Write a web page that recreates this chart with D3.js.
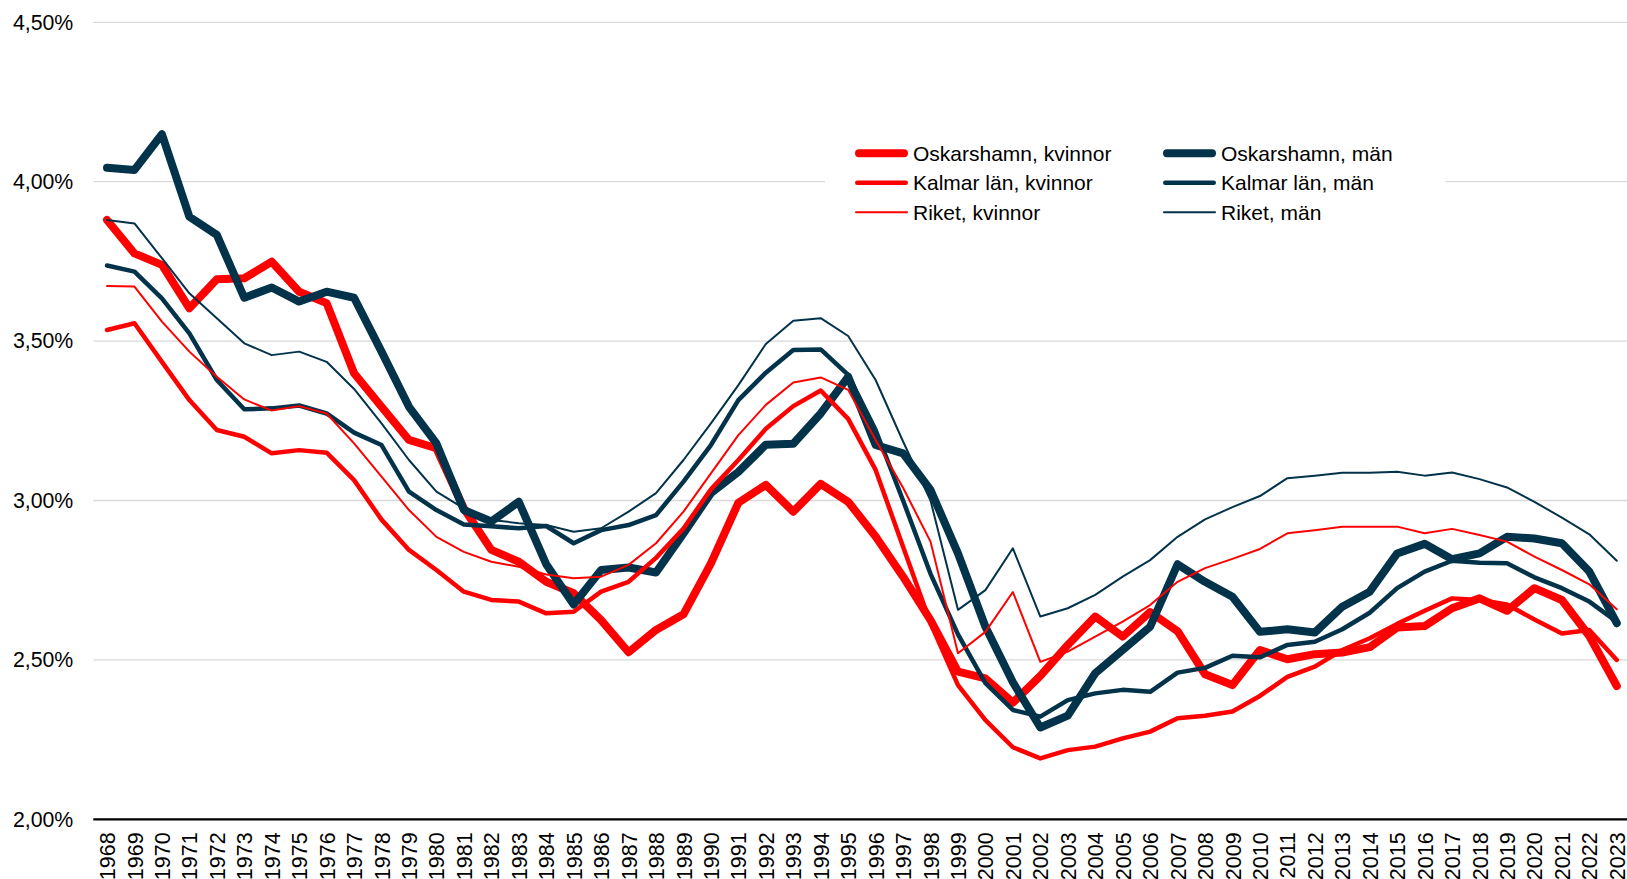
<!DOCTYPE html>
<html>
<head>
<meta charset="utf-8">
<title>Oskarshamn, Kalmar län och riket</title>
<script src="https://d3js.org/d3.v7.min.js"></script>
<style>
  body { margin: 0; background: #fff; }
  text { font-family: "Liberation Sans", Arial, sans-serif; fill: #000; }
</style>
</head>
<body>
<script>
var width = 1627,
    height = 879;

var years = [1968, 1969, 1970, 1971, 1972, 1973, 1974, 1975, 1976, 1977,
  1978, 1979, 1980, 1981, 1982, 1983, 1984, 1985, 1986, 1987,
  1988, 1989, 1990, 1991, 1992, 1993, 1994, 1995, 1996, 1997,
  1998, 1999, 2000, 2001, 2002, 2003, 2004, 2005, 2006, 2007,
  2008, 2009, 2010, 2011, 2012, 2013, 2014, 2015, 2016, 2017,
  2018, 2019, 2020, 2021, 2022, 2023];

// values in percent
var oskKvinnor = [3.880, 3.775, 3.739, 3.603, 3.694, 3.697, 3.749, 3.655, 3.619, 3.399,
  3.294, 3.190, 3.164, 2.975, 2.845, 2.808, 2.745, 2.709, 2.625, 2.524,
  2.594, 2.643, 2.803, 2.993, 3.049, 2.965, 3.052, 2.996, 2.887, 2.761,
  2.625, 2.463, 2.442, 2.366, 2.450, 2.547, 2.636, 2.573, 2.650, 2.590,
  2.455, 2.421, 2.531, 2.502, 2.518, 2.523, 2.540, 2.602, 2.606, 2.662,
  2.693, 2.654, 2.725, 2.688, 2.575, 2.418];

var oskMan = [4.044, 4.037, 4.149, 3.890, 3.833, 3.636, 3.668, 3.624, 3.655, 3.636,
  3.467, 3.294, 3.179, 2.970, 2.934, 2.996, 2.800, 2.674, 2.782, 2.790,
  2.774, 2.897, 3.023, 3.090, 3.175, 3.178, 3.273, 3.388, 3.174, 3.148,
  3.033, 2.834, 2.604, 2.430, 2.288, 2.325, 2.458, 2.531, 2.604, 2.800,
  2.745, 2.698, 2.588, 2.596, 2.586, 2.667, 2.714, 2.834, 2.864, 2.816,
  2.834, 2.886, 2.881, 2.866, 2.777, 2.615];

var kalmarKvinnor = [3.535, 3.556, 3.435, 3.315, 3.221, 3.200, 3.148, 3.158, 3.150, 3.064,
  2.940, 2.845, 2.782, 2.714, 2.688, 2.683, 2.646, 2.651, 2.714, 2.745,
  2.820, 2.912, 3.035, 3.127, 3.225, 3.296, 3.345, 3.256, 3.096, 2.855,
  2.615, 2.421, 2.311, 2.226, 2.191, 2.217, 2.228, 2.254, 2.275, 2.317,
  2.325, 2.338, 2.387, 2.447, 2.479, 2.531, 2.568, 2.613, 2.654, 2.693,
  2.688, 2.674, 2.627, 2.583, 2.594, 2.500];

var kalmarMan = [3.737, 3.718, 3.634, 3.524, 3.378, 3.286, 3.289, 3.298, 3.273, 3.213,
  3.174, 3.028, 2.970, 2.925, 2.919, 2.913, 2.920, 2.866, 2.907, 2.923,
  2.954, 3.059, 3.174, 3.315, 3.401, 3.472, 3.474, 3.394, 3.221, 3.000,
  2.770, 2.580, 2.427, 2.343, 2.322, 2.374, 2.395, 2.406, 2.400, 2.460,
  2.475, 2.513, 2.508, 2.547, 2.557, 2.596, 2.648, 2.725, 2.777, 2.811,
  2.805, 2.803, 2.759, 2.725, 2.683, 2.620];

var riketKvinnor = [3.673, 3.671, 3.561, 3.467, 3.388, 3.317, 3.282, 3.296, 3.273, 3.179,
  3.075, 2.970, 2.886, 2.839, 2.808, 2.792, 2.768, 2.756, 2.761, 2.798,
  2.866, 2.965, 3.085, 3.205, 3.300, 3.370, 3.386, 3.347, 3.190, 3.040,
  2.871, 2.521, 2.588, 2.713, 2.494, 2.526, 2.573, 2.620, 2.672, 2.745,
  2.788, 2.817, 2.848, 2.897, 2.907, 2.918, 2.918, 2.918, 2.897, 2.911,
  2.892, 2.871, 2.824, 2.782, 2.737, 2.659];

var riketMan = [3.880, 3.869, 3.760, 3.650, 3.572, 3.493, 3.456, 3.467, 3.435, 3.350,
  3.242, 3.127, 3.028, 2.975, 2.939, 2.929, 2.923, 2.902, 2.913, 2.965,
  3.023, 3.127, 3.242, 3.362, 3.491, 3.564, 3.572, 3.516, 3.378, 3.185,
  3.000, 2.657, 2.719, 2.850, 2.636, 2.662, 2.704, 2.761, 2.813, 2.886,
  2.941, 2.979, 3.014, 3.070, 3.078, 3.087, 3.087, 3.090, 3.078, 3.088,
  3.067, 3.041, 2.996, 2.946, 2.894, 2.811];

var yTicks = [2.0, 2.5, 3.0, 3.5, 4.0, 4.5];

var seriesNames = ["Oskarshamn, kvinnor", "Oskarshamn, män",
  "Kalmar län, kvinnor", "Kalmar län, män",
  "Riket, kvinnor", "Riket, män"];
var seriesValues = [oskKvinnor, oskMan, kalmarKvinnor, kalmarMan, riketKvinnor, riketMan];

var red = "#ff0000",
    navy = "#02334a";
var colors = [red, navy, red, navy, red, navy];
var widths = [8, 8, 4.5, 4.5, 2, 2];

var series = seriesNames.map(function(name, i) {
  return {
    name: name,
    color: colors[i],
    width: widths[i],
    values: years.map(function(y, j) { return {year: y, value: seriesValues[i][j]}; })
  };
});

var svg = d3.select("body").append("svg")
    .attr("width", width)
    .attr("height", height);

var x = d3.scalePoint()
    .domain(years)
    .range([93.3, 1630.5])
    .padding(0.5);

var y = d3.scaleLinear()
    .domain([2, 4.5])
    .range([819.3, 22.3]);

var fmt = function(v) { return v.toFixed(2).replace(".", ",") + "%"; };

// gridlines
svg.append("g")
    .attr("class", "grid")
  .selectAll("line")
  .data(yTicks.slice(1))
  .enter().append("line")
    .attr("x1", 93.3)
    .attr("x2", width)
    .attr("y1", function(d) { return y(d); })
    .attr("y2", function(d) { return y(d); })
    .attr("stroke", "#d9d9d9")
    .attr("stroke-width", 1.3);

// y axis labels
var yAxis = d3.axisLeft(y)
    .tickValues(yTicks)
    .tickFormat(fmt)
    .tickSize(0)
    .tickPadding(20);

svg.append("g")
    .attr("transform", "translate(93.3,0)")
    .call(yAxis)
    .call(function(g) { g.select(".domain").remove(); })
    .selectAll("text")
    .style("font-size", "21.3px")
    .attr("fill", "#000");

// x axis
var xAxis = d3.axisBottom(x)
    .tickSize(0)
    .tickPadding(0);

var gx = svg.append("g")
    .attr("transform", "translate(0," + y(2) + ")")
    .call(xAxis);

gx.select(".domain")
    .attr("d", "M93.3,0H" + width)
    .attr("stroke", "#000")
    .attr("stroke-width", 2.2);

gx.selectAll("text")
    .style("font-size", "21.5px")
    .attr("fill", "#000")
    .attr("text-anchor", "end")
    .attr("transform", "rotate(-90)")
    .attr("x", -13)
    .attr("y", 0)
    .attr("dy", "0.35em");

// lines
var line = d3.line()
    .x(function(d) { return x(d.year); })
    .y(function(d) { return y(d.value); });

svg.append("g")
    .attr("class", "lines")
  .selectAll("path")
  .data(series)
  .enter().append("path")
    .attr("d", function(d) { return line(d.values); })
    .attr("fill", "none")
    .attr("stroke", function(d) { return d.color; })
    .attr("stroke-width", function(d) { return d.width; })
    .attr("stroke-linejoin", "round")
    .attr("stroke-linecap", "round");

// legend
var legend = svg.append("g").attr("class", "legend");

legend.append("rect")
    .attr("x", 825)
    .attr("y", 128)
    .attr("width", 620)
    .attr("height", 108)
    .attr("fill", "#fff");

var item = legend.selectAll("g.item")
    .data(series)
  .enter().append("g")
    .attr("class", "item")
    .attr("transform", function(d, i) {
      var cx = i % 2 === 0 ? 855 : 1163;
      var cy = 153.3 + Math.floor(i / 2) * 29.5;
      return "translate(" + cx + "," + cy + ")";
    });

item.append("line")
    .attr("x1", function(d) { return d.width / 2; })
    .attr("x2", function(d) { return 53 - d.width / 2; })
    .attr("stroke", function(d) { return d.color; })
    .attr("stroke-width", function(d) { return d.width; })
    .attr("stroke-linecap", "round");

item.append("text")
    .attr("x", 58)
    .attr("dy", "0.35em")
    .style("font-size", "21px")
    .text(function(d) { return d.name; });
</script>
</body>
</html>
